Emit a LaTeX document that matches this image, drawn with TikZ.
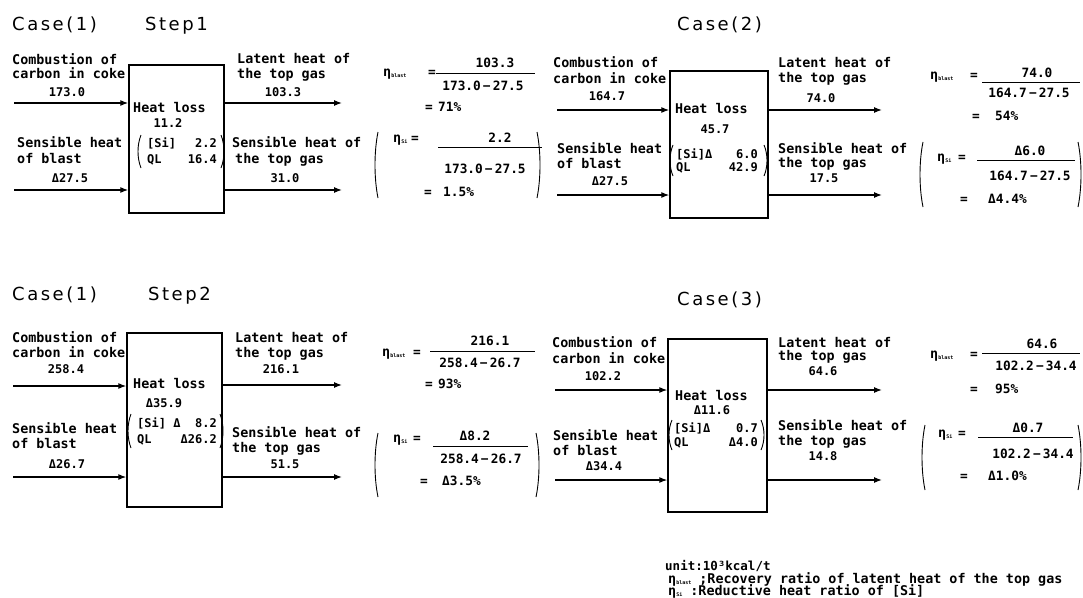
\documentclass[tikz,border=0pt]{standalone}
\usepackage{fontspec}
\setmainfont{DejaVu Sans Mono}
\newfontfamily\titlefont[LetterSpace=14]{DejaVu Sans}
\usetikzlibrary{arrows.meta}
\newcommand\bodyfont{\fontsize{13.4}{15}\selectfont\bfseries}
\newcommand\numfont{\fontsize{12}{14}\selectfont\bfseries}
\newcommand\ratiofont{\fontsize{12.8}{14}\selectfont\bfseries}
\newcommand\etasub[1]{η\raisebox{-1.5pt}{\fontsize{5}{5}\selectfont #1}}
\tikzset{
  lbl/.style={font=\bodyfont, anchor=base west, inner sep=0pt},
  val/.style={font=\numfont, anchor=base, inner sep=0pt},
  valr/.style={font=\numfont, anchor=base east, inner sep=0pt},
  vall/.style={font=\numfont, anchor=base west, inner sep=0pt},
  rat/.style={font=\ratiofont, anchor=base, inner sep=0pt},
  ratl/.style={font=\ratiofont, anchor=base west, inner sep=0pt},
  ttl/.style={font=\titlefont\fontsize{18}{20}\selectfont, anchor=base west, inner sep=0pt},
  furnace/.style={draw, line width=1.4pt, inner sep=0pt},
  flow/.style={-{Latex[length=8pt,width=6pt]}, line width=1.2pt},
  bar/.style={line width=0.9pt},
  paren/.style={line width=0.9pt},
}
% left / right parenthesis drawn as curves: x, top y, bottom y
\newcommand\lparen[3]{\draw[paren] (#1,#2) .. controls (#1-4,#2+0.3*#3-0.3*#2) and (#1-4,#3-0.3*#3+0.3*#2) .. (#1,#3);}
\newcommand\rparen[3]{\draw[paren] (#1,#2) .. controls (#1+4,#2+0.3*#3-0.3*#2) and (#1+4,#3-0.3*#3+0.3*#2) .. (#1,#3);}

\begin{document}
\begin{tikzpicture}[x=1pt,y=-1pt]
\useasboundingbox (0,0) rectangle (1083,597);

% ---------------- Case(1) Step1 ----------------
\node[ttl] (t1) at (12,30) {Case(1)};
\node[ttl] (s1) at (145,30) {Step1};
\node[furnace, minimum width=95pt, minimum height=148pt] (b1) at (176.5,139) {};
\node[lbl] (l1a) at (12,64) {Combustion of};
\node[lbl] (l1b) at (12,78) {carbon in coke};
\node[val] (v1a) at (67,96) {173.0};
\node[lbl] (l1c) at (17,147) {Sensible heat};
\node[lbl] (l1d) at (17,163) {of blast};
\node[val] (v1b) at (70,182) {Δ27.5};
\coordinate (i1a) at (14,103);
\coordinate (i1b) at (14,190);
\draw[flow] (i1a) -- (i1a -| b1.west);
\draw[flow] (i1b) -- (i1b -| b1.west);
\node[lbl] (h1) at (133,112) {Heat loss};
\node[val] (h1v) at (168,127) {11.2};
\node[vall] (h1s) at (147,147) {[Si]};
\node[valr] (h1sv) at (217,147) {2.2};
\node[vall] (h1q) at (147,163) {QL};
\node[valr] (h1qv) at (217,163) {16.4};
\lparen{141}{135}{168}
\rparen{221}{135}{168}
\node[lbl] (r1a) at (237,63) {Latent heat of};
\node[lbl] (r1b) at (237,78) {the top gas};
\node[val] (w1a) at (283,96) {103.3};
\node[lbl] (r1c) at (232,147) {Sensible heat of};
\node[lbl] (r1d) at (235,163) {the top gas};
\node[val] (w1b) at (285,182) {31.0};
\coordinate (o1a) at (342,103);
\coordinate (o1b) at (342,190);
\draw[flow] (o1a -| b1.east) -- (o1a);
\draw[flow] (o1b -| b1.east) -- (o1b);
% ratios
\node[lbl] (e1a) at (383,76) {\etasub{blast}};
\node[ratl] (e1b) at (428,76) {=};
\node[rat] (e1c) at (495,67) {103.3};
\draw[bar] (436,73) -- (535,73);
\node[rat] (e1d) at (483,90) {173.0\,−\,27.5};
\node[ratl] (e1e) at (425,111) {=};
\node[ratl] (e1f) at (438,111) {71\%};
\lparen{378}{132}{198}
\rparen{537}{132}{198}
\node[lbl] (f1a) at (393,142) {\etasub{Si}};
\node[ratl] (f1b) at (411,142) {=};
\node[rat] (f1c) at (500,142) {2.2};
\draw[bar] (438,147) -- (542,147);
\node[rat] (f1d) at (485,173) {173.0\,−\,27.5};
\node[ratl] (f1e) at (424,196) {=};
\node[ratl] (f1f) at (443,196) {1.5\%};

% ---------------- Case(2) ----------------
\node[ttl] (t2) at (677,30) {Case(2)};
\node[furnace, minimum width=98pt, minimum height=147pt] (b2) at (719,144.5) {};
\node[lbl] (l2a) at (553,67) {Combustion of};
\node[lbl] (l2b) at (553,83) {carbon in coke};
\node[val] (v2a) at (607,100) {164.7};
\node[lbl] (l2c) at (557,153) {Sensible heat};
\node[lbl] (l2d) at (557,168) {of blast};
\node[val] (v2b) at (610,185) {Δ27.5};
\coordinate (i2a) at (557,110);
\coordinate (i2b) at (557,195);
\draw[flow] (i2a) -- (i2a -| b2.west);
\draw[flow] (i2b) -- (i2b -| b2.west);
\node[lbl] (h2) at (675,113) {Heat loss};
\node[val] (h2v) at (715,133) {45.7};
\node[vall] (h2s) at (676,158) {[Si]Δ};
\node[valr] (h2sv) at (758,158) {6.0};
\node[vall] (h2q) at (676,171) {QL};
\node[valr] (h2qv) at (758,171) {42.9};
\lparen{673}{145}{176}
\rparen{764}{145}{176}
\node[lbl] (r2a) at (778,67) {Latent heat of};
\node[lbl] (r2b) at (778,82) {the top gas};
\node[val] (w2a) at (821,102) {74.0};
\node[lbl] (r2c) at (778,153) {Sensible heat of};
\node[lbl] (r2d) at (778,167) {the top gas};
\node[val] (w2b) at (824,182) {17.5};
\coordinate (o2a) at (882,110);
\coordinate (o2b) at (882,195);
\draw[flow] (o2a -| b2.east) -- (o2a);
\draw[flow] (o2b -| b2.east) -- (o2b);
% ratios
\node[lbl] (e2a) at (930,79) {\etasub{blast}};
\node[ratl] (e2b) at (970,79) {=};
\node[rat] (e2c) at (1037,77) {74.0};
\draw[bar] (982,82) -- (1080,82);
\node[rat] (e2d) at (1029,97) {164.7\,−\,27.5};
\node[ratl] (e2e) at (972,120) {=};
\node[ratl] (e2f) at (995,120) {54\%};
\lparen{923}{142}{207}
\rparen{1078}{142}{207}
\node[lbl] (f2a) at (937,161) {\etasub{Si}};
\node[ratl] (f2b) at (958,161) {=};
\node[rat] (f2c) at (1030,155) {Δ6.0};
\draw[bar] (977,160) -- (1075,160);
\node[rat] (f2d) at (1030,180) {164.7\,−\,27.5};
\node[ratl] (f2e) at (960,203) {=};
\node[ratl] (f2f) at (988,203) {Δ4.4\%};

% ---------------- Case(1) Step2 ----------------
\node[ttl] (t3) at (12,300) {Case(1)};
\node[ttl] (s3) at (148,300) {Step2};
\node[furnace, minimum width=95pt, minimum height=174pt] (b3) at (174.5,420) {};
\node[lbl] (l3a) at (12,342) {Combustion of};
\node[lbl] (l3b) at (12,357) {carbon in coke};
\node[val] (v3a) at (66,373) {258.4};
\node[lbl] (l3c) at (12,433) {Sensible heat};
\node[lbl] (l3d) at (12,448) {of blast};
\node[val] (v3b) at (67,468) {Δ26.7};
\coordinate (i3a) at (13,386);
\coordinate (i3b) at (13,477);
\draw[flow] (i3a) -- (i3a -| b3.west);
\draw[flow] (i3b) -- (i3b -| b3.west);
\node[lbl] (h3) at (133,388) {Heat loss};
\node[val] (h3v) at (164,407) {Δ35.9};
\node[vall] (h3s) at (137,427) {[Si] Δ};
\node[valr] (h3sv) at (217,427) {8.2};
\node[vall] (h3q) at (137,443) {QL};
\node[valr] (h3qv) at (217,443) {Δ26.2};
\lparen{131}{414}{448}
\rparen{220}{414}{448}
\node[lbl] (r3a) at (235,342) {Latent heat of};
\node[lbl] (r3b) at (235,357) {the top gas};
\node[val] (w3a) at (281,373) {216.1};
\node[lbl] (r3c) at (232,437) {Sensible heat of};
\node[lbl] (r3d) at (232,452) {the top gas};
\node[val] (w3b) at (285,468) {51.5};
\coordinate (o3a) at (342,385);
\coordinate (o3b) at (342,477);
\draw[flow] (o3a -| b3.east) -- (o3a);
\draw[flow] (o3b -| b3.east) -- (o3b);
% ratios
\node[lbl] (e3a) at (382,356) {\etasub{blast}};
\node[ratl] (e3b) at (413,356) {=};
\node[rat] (e3c) at (490,345) {216.1};
\draw[bar] (430,351) -- (535,351);
\node[rat] (e3d) at (480,367) {258.4\,−\,26.7};
\node[ratl] (e3e) at (425,388) {=};
\node[ratl] (e3f) at (438,388) {93\%};
\lparen{378}{433}{497}
\rparen{536}{433}{497}
\node[lbl] (f3a) at (393,442) {\etasub{Si}};
\node[ratl] (f3b) at (413,442) {=};
\node[rat] (f3c) at (475,440) {Δ8.2};
\draw[bar] (433,446) -- (528,446);
\node[rat] (f3d) at (481,463) {258.4\,−\,26.7};
\node[ratl] (f3e) at (420,485) {=};
\node[ratl] (f3f) at (442,485) {Δ3.5\%};

% ---------------- Case(3) ----------------
\node[ttl] (t4) at (677,305) {Case(3)};
\node[furnace, minimum width=99pt, minimum height=173pt] (b4) at (717.5,425.5) {};
\node[lbl] (l4a) at (552,347) {Combustion of};
\node[lbl] (l4b) at (552,363) {carbon in coke};
\node[val] (v4a) at (603,380) {102.2};
\node[lbl] (l4c) at (553,440) {Sensible heat};
\node[lbl] (l4d) at (553,455) {of blast};
\node[val] (v4b) at (604,470) {Δ34.4};
\coordinate (i4a) at (555,390);
\coordinate (i4b) at (555,480);
\draw[flow] (i4a) -- (i4a -| b4.west);
\draw[flow] (i4b) -- (i4b -| b4.west);
\node[lbl] (h4) at (675,400) {Heat loss};
\node[val] (h4v) at (712,414) {Δ11.6};
\node[vall] (h4s) at (674,432) {[Si]Δ};
\node[valr] (h4sv) at (758,432) {0.7};
\node[vall] (h4q) at (674,446) {QL};
\node[valr] (h4qv) at (758,446) {Δ4.0};
\lparen{672}{420}{450}
\rparen{761}{420}{450}
\node[lbl] (r4a) at (778,347) {Latent heat of};
\node[lbl] (r4b) at (778,360) {the top gas};
\node[val] (w4a) at (823,375) {64.6};
\node[lbl] (r4c) at (778,430) {Sensible heat of};
\node[lbl] (r4d) at (778,445) {the top gas};
\node[val] (w4b) at (823,460) {14.8};
\coordinate (o4a) at (882,390);
\coordinate (o4b) at (882,480);
\draw[flow] (o4a -| b4.east) -- (o4a);
\draw[flow] (o4b -| b4.east) -- (o4b);
% ratios
\node[lbl] (e4a) at (930,358) {\etasub{blast}};
\node[ratl] (e4b) at (970,358) {=};
\node[rat] (e4c) at (1042,348) {64.6};
\draw[bar] (982,353) -- (1080,353);
\node[rat] (e4d) at (1036,370) {102.2\,−\,34.4};
\node[ratl] (e4e) at (970,393) {=};
\node[ratl] (e4f) at (995,393) {95\%};
\lparen{925}{425}{490}
\rparen{1078}{425}{490}
\node[lbl] (f4a) at (938,437) {\etasub{Si}};
\node[ratl] (f4b) at (958,437) {=};
\node[rat] (f4c) at (1028,432) {Δ0.7};
\draw[bar] (978,437) -- (1073,437);
\node[rat] (f4d) at (1033,458) {102.2\,−\,34.4};
\node[ratl] (f4e) at (960,480) {=};
\node[ratl] (f4f) at (988,480) {Δ1.0\%};

% ---------------- legend ----------------
\node[lbl, font=\fontsize{12.5}{14}\selectfont\bfseries] (u1) at (665,570) {unit:10³kcal/t};
\node[lbl] (u2) at (668,583) {\etasub{blast} ;Recovery ratio of latent heat of the top gas};
\node[lbl] (u3) at (668,595) {\etasub{Si} :Reductive heat ratio of [Si]};
\end{tikzpicture}
\end{document}
